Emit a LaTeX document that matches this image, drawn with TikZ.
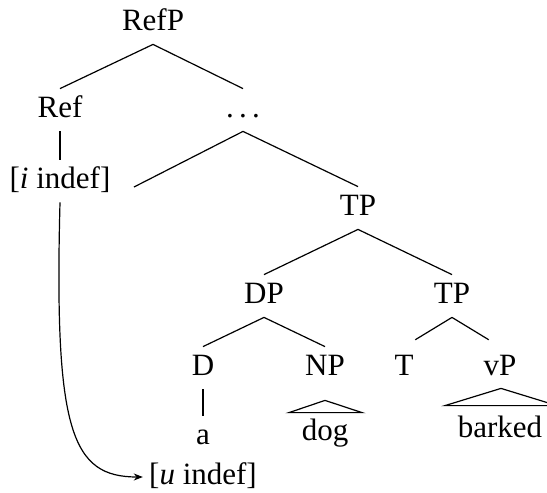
\documentclass[tikz,border=0pt]{standalone}
\usepackage{fontspec}
\setmainfont{Liberation Serif}
\usetikzlibrary{arrows.meta,calc}
\begin{document}
\begin{tikzpicture}[x=0.5pt,y=-0.5pt,
  lbl/.style={anchor=base, inner sep=0pt, text height=14pt, text depth=7pt, font=\fontsize{15.5pt}{18pt}\selectfont},
  edge/.style={line width=0.6pt},
  shortedge/.style={edge, shorten >=6.6pt},
  roof/.style={line width=0.6pt},
  link/.style={line width=0.6pt, -{Stealth[length=4.5pt,width=3.5pt]}, shorten >=3pt}]
\clip (0,0) rectangle (547,493);
% nodes
\node[lbl] (RefP) at (153,30) {RefP};
\node[lbl] (Ref) at (60,117) {Ref};
\node[lbl] (dots) at (243,117) {.\kern2.6pt.\kern2.6pt.};
\node[lbl] (iind) at (60,188) {[\textit{i} indef]};
\node[lbl] (TP) at (358,215) {TP};
\node[lbl] (DP) at (264,303) {DP};
\node[lbl] (TPb) at (452,303) {TP};
\node[lbl] (D) at (203,375) {D};
\node[lbl] (NP) at (325,375) {NP};
\node[lbl] (T) at (404,375) {T};
\node[lbl] (vP) at (500,375) {vP};
\node[lbl] (a) at (203,444) {a};
\node[lbl] (dog) at (325,440) {dog};
\node[lbl] (barked) at (500,437) {barked};
\node[lbl] (uind) at (203,484) {[\textit{u} indef]};
\coordinate (dang) at (134,187);
% edges
\draw[edge] (RefP.south) -- (Ref.north);
\draw[edge] (RefP.south) -- (dots.north);
\draw[edge] (Ref.south) -- (iind.north);
\draw[edge] (dots.south) -- (dang);
\draw[edge] (dots.south) -- (TP.north);
\draw[edge] (TP.south) -- (DP.north);
\draw[edge] (TP.south) -- (TPb.north);
\draw[edge] (DP.south) -- (D.north);
\draw[edge] (DP.south) -- (NP.north);
\draw[shortedge] (TPb.south) -- (T.north);
\draw[shortedge] (TPb.south) -- (vP.north);
\draw[edge] (D.south) -- (a.north);
% roofs
\draw[roof] ($(NP.south)+(0,11)$) -- ($(dog.north)+(-36,1)$) -- ($(dog.north)+(37,1)$) -- cycle;
\draw[roof] ($(vP.south)+(1,-1)$) -- ($(barked.north)+(-55,-3)$) -- ($(barked.north)+(57,-3)$) -- cycle;
% feature link
\draw[link] (iind.south) .. controls +(-6,230) and +(-77,0) .. (uind.west);
\end{tikzpicture}
\end{document}
